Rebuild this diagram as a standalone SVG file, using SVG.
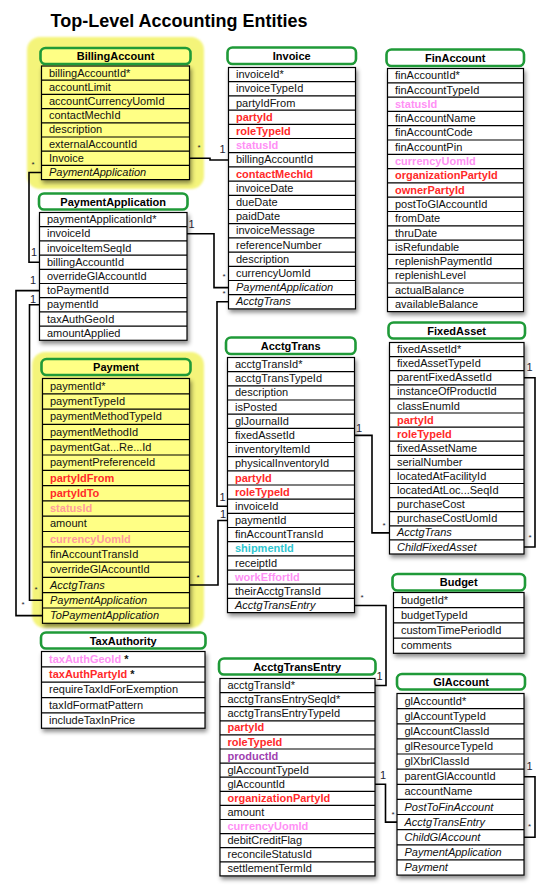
<svg xmlns="http://www.w3.org/2000/svg" width="553" height="896" viewBox="0 0 553 896">
<defs>
<filter id="sh" x="-10%" y="-10%" width="125%" height="125%">
<feDropShadow dx="1.5" dy="3" stdDeviation="2.2" flood-color="#000" flood-opacity="0.45"/>
</filter>
<filter id="soft" x="-5%" y="-5%" width="110%" height="110%">
<feGaussianBlur stdDeviation="1.2"/>
</filter>
</defs>
<style>
text{font-family:"Liberation Sans",Arial,sans-serif;font-size:11px;fill:#111}
.h{font-size:18px;font-weight:bold;fill:#000}
.b{font-weight:bold;text-anchor:middle;fill:#000}
.i{font-style:italic}
.r{font-weight:bold;fill:#ff2a2a}
.p{font-weight:bold;fill:#ff90f5}
.s{font-weight:bold;fill:#ff9c9c}
.c{font-weight:bold;fill:#30c6d0}
.v{font-weight:bold;fill:#a040b0}
.st{font-weight:bold}
.tb{fill:#fff;stroke:#000;stroke-width:1.2;filter:url(#sh)}
.ty{fill:#ffff85;stroke:#000;stroke-width:1.2;filter:url(#sh)}
.hd{fill:#fff;stroke:#1f9a38;stroke-width:2.6}
.hy{fill:#ffff85;stroke:#1f9a38;stroke-width:2.6}
.ln{fill:none;stroke:#000;stroke-width:1.2}
.bg{fill:#f4f47a;filter:url(#soft)}
.cn{fill:none;stroke:#000;stroke-width:1.6}
.one{font-size:11px;fill:#223;text-anchor:middle}
.mny{font-size:8px;fill:#223;text-anchor:middle}
</style>
<rect width="553" height="896" fill="#fff"/>
<text class="h" x="50.5" y="27">Top-Level Accounting Entities</text>

<g id="BillingAccount">
<rect class="bg" x="27" y="37" width="177" height="152" rx="13"/>
<rect class="ty" x="41.5" y="66" width="148" height="113.6"/>
<path class="ln" d="M41.5 80.2h148M41.5 94.4h148M41.5 108.6h148M41.5 122.8h148M41.5 137h148M41.5 151.2h148M41.5 165.4h148"/>
<rect class="hy" x="40.5" y="48" width="150" height="16" rx="5"/>
<text class="b" x="115.5" y="60">BillingAccount</text>
<text x="49" y="76.6">billingAccountId*</text>
<text x="49" y="90.8">accountLimit</text>
<text x="49" y="105">accountCurrencyUomId</text>
<text x="49" y="119.2">contactMechId</text>
<text x="49" y="133.4">description</text>
<text x="49" y="147.6">externalAccountId</text>
<text x="49" y="161.8">Invoice</text>
<text class="i" x="49" y="176">PaymentApplication</text>
</g>

<g id="Invoice">
<rect class="tb" x="228.5" y="67.5" width="127" height="241.4"/>
<path class="ln" d="M228.5 81.7h127M228.5 95.9h127M228.5 110.1h127M228.5 124.3h127M228.5 138.5h127M228.5 152.7h127M228.5 166.9h127M228.5 181.1h127M228.5 195.3h127M228.5 209.5h127M228.5 223.7h127M228.5 237.9h127M228.5 252.1h127M228.5 266.3h127M228.5 280.5h127M228.5 294.7h127"/>
<rect class="hd" x="227.5" y="47.5" width="128.5" height="16.5" rx="5"/>
<text class="b" x="291.7" y="59.8">Invoice</text>
<text x="236" y="78.1">invoiceId*</text>
<text x="236" y="92.3">invoiceTypeId</text>
<text x="236" y="106.5">partyIdFrom</text>
<text class="r" x="236" y="120.7">partyId</text>
<text class="r" x="236" y="134.9">roleTypeId</text>
<text class="p" x="236" y="149.1">statusId</text>
<text x="236" y="163.3">billingAccountId</text>
<text class="r" x="236" y="177.5">contactMechId</text>
<text x="236" y="191.7">invoiceDate</text>
<text x="236" y="205.9">dueDate</text>
<text x="236" y="220.1">paidDate</text>
<text x="236" y="234.3">invoiceMessage</text>
<text x="236" y="248.5">referenceNumber</text>
<text x="236" y="262.7">description</text>
<text x="236" y="276.9">currencyUomId</text>
<text class="i" x="236" y="291.1">PaymentApplication</text>
<text class="i" x="236" y="305.3">AcctgTrans</text>
</g>

<g id="FinAccount">
<rect class="tb" x="387.5" y="68.5" width="136" height="243.1"/>
<path class="ln" d="M387.5 82.8h136M387.5 97.1h136M387.5 111.4h136M387.5 125.7h136M387.5 140h136M387.5 154.3h136M387.5 168.6h136M387.5 182.9h136M387.5 197.2h136M387.5 211.5h136M387.5 225.8h136M387.5 240.1h136M387.5 254.4h136M387.5 268.7h136M387.5 283h136M387.5 297.3h136"/>
<rect class="hd" x="386.5" y="49.5" width="137.5" height="16.5" rx="5"/>
<text class="b" x="455.2" y="61.8">FinAccount</text>
<text x="395" y="79.2">finAccountId*</text>
<text x="395" y="93.5">finAccountTypeId</text>
<text class="p" x="395" y="107.8">statusId</text>
<text x="395" y="122.1">finAccountName</text>
<text x="395" y="136.4">finAccountCode</text>
<text x="395" y="150.7">finAccountPin</text>
<text class="p" x="395" y="165">currencyUomId</text>
<text class="r" x="395" y="179.3">organizationPartyId</text>
<text class="r" x="395" y="193.6">ownerPartyId</text>
<text x="395" y="207.9">postToGlAccountId</text>
<text x="395" y="222.2">fromDate</text>
<text x="395" y="236.5">thruDate</text>
<text x="395" y="250.8">isRefundable</text>
<text x="395" y="265.1">replenishPaymentId</text>
<text x="395" y="279.4">replenishLevel</text>
<text x="395" y="293.7">actualBalance</text>
<text x="395" y="308">availableBalance</text>
</g>

<g id="PaymentApplication">
<rect class="tb" x="39.5" y="212.5" width="147.5" height="127.8"/>
<path class="ln" d="M39.5 226.7h147.5M39.5 240.9h147.5M39.5 255.1h147.5M39.5 269.3h147.5M39.5 283.5h147.5M39.5 297.7h147.5M39.5 311.9h147.5M39.5 326.1h147.5"/>
<rect class="hd" x="39" y="193.5" width="148.5" height="16" rx="5"/>
<text class="b" x="113.2" y="205.5">PaymentApplication</text>
<text x="47" y="223.1">paymentApplicationId*</text>
<text x="47" y="237.3">invoiceId</text>
<text x="47" y="251.5">invoiceItemSeqId</text>
<text x="47" y="265.7">billingAccountId</text>
<text x="47" y="279.9">overrideGlAccountId</text>
<text x="47" y="294.1">toPaymentId</text>
<text x="47" y="308.3">paymentId</text>
<text x="47" y="322.5">taxAuthGeoId</text>
<text x="47" y="336.7">amountApplied</text>
</g>

<g id="Payment">
<rect class="bg" x="32" y="352" width="172" height="276" rx="13"/>
<rect class="ty" x="42.5" y="378.5" width="147" height="244.8"/>
<path class="ln" d="M42.5 393.8h147M42.5 409.1h147M42.5 424.4h147M42.5 439.7h147M42.5 455h147M42.5 470.3h147M42.5 485.6h147M42.5 500.9h147M42.5 516.2h147M42.5 531.5h147M42.5 546.8h147M42.5 562.1h147M42.5 577.4h147M42.5 592.7h147M42.5 608h147"/>
<rect class="hy" x="41.5" y="359" width="149" height="16" rx="5"/>
<text class="b" x="116" y="371">Payment</text>
<text x="50" y="389.7">paymentId*</text>
<text x="50" y="405">paymentTypeId</text>
<text x="50" y="420.3">paymentMethodTypeId</text>
<text x="50" y="435.6">paymentMethodId</text>
<text x="50" y="450.9">paymentGat...Re...Id</text>
<text x="50" y="466.2">paymentPreferenceId</text>
<text class="r" x="50" y="481.5">partyIdFrom</text>
<text class="r" x="50" y="496.8">partyIdTo</text>
<text class="s" x="50" y="512.1">statusId</text>
<text x="50" y="527.4">amount</text>
<text class="s" x="50" y="542.7">currencyUomId</text>
<text x="50" y="558">finAccountTransId</text>
<text x="50" y="573.3">overrideGlAccountId</text>
<text class="i" x="50" y="588.6">AcctgTrans</text>
<text class="i" x="50" y="603.9">PaymentApplication</text>
<text class="i" x="50" y="619.2">ToPaymentApplication</text>
</g>

<g id="AcctgTrans">
<rect class="tb" x="227.5" y="357.5" width="127" height="255.1"/>
<path class="ln" d="M227.5 371.7h127M227.5 385.8h127M227.5 400h127M227.5 414.2h127M227.5 428.4h127M227.5 442.5h127M227.5 456.7h127M227.5 470.9h127M227.5 485h127M227.5 499.2h127M227.5 513.4h127M227.5 527.5h127M227.5 541.7h127M227.5 555.9h127M227.5 570.1h127M227.5 584.2h127M227.5 598.4h127"/>
<rect class="hd" x="226" y="337.5" width="129.5" height="16.5" rx="5"/>
<text class="b" x="290.7" y="349.8">AcctgTrans</text>
<text x="235" y="368.1">acctgTransId*</text>
<text x="235" y="382.3">acctgTransTypeId</text>
<text x="235" y="396.4">description</text>
<text x="235" y="410.6">isPosted</text>
<text x="235" y="424.8">glJournalId</text>
<text x="235" y="439">fixedAssetId</text>
<text x="235" y="453.1">inventoryItemId</text>
<text x="235" y="467.3">physicalInventoryId</text>
<text class="r" x="235" y="481.5">partyId</text>
<text class="r" x="235" y="495.6">roleTypeId</text>
<text x="235" y="509.8">invoiceId</text>
<text x="235" y="524">paymentId</text>
<text x="235" y="538.1">finAccountTransId</text>
<text class="c" x="235" y="552.3">shipmentId</text>
<text x="235" y="566.5">receiptId</text>
<text class="p" x="235" y="580.7">workEffortId</text>
<text x="235" y="594.8">theirAcctgTransId</text>
<text class="i" x="235" y="609">AcctgTransEntry</text>
</g>

<g id="FixedAsset">
<rect class="tb" x="389.5" y="342.5" width="134.5" height="211.5"/>
<path class="ln" d="M389.5 356.6h134.5M389.5 370.7h134.5M389.5 384.8h134.5M389.5 398.9h134.5M389.5 413h134.5M389.5 427.1h134.5M389.5 441.2h134.5M389.5 455.3h134.5M389.5 469.4h134.5M389.5 483.5h134.5M389.5 497.6h134.5M389.5 511.7h134.5M389.5 525.8h134.5M389.5 539.9h134.5"/>
<rect class="hd" x="388.5" y="322.5" width="136.5" height="16" rx="5"/>
<text class="b" x="456.7" y="334.5">FixedAsset</text>
<text x="397" y="353.1">fixedAssetId*</text>
<text x="397" y="367.2">fixedAssetTypeId</text>
<text x="397" y="381.3">parentFixedAssetId</text>
<text x="397" y="395.4">instanceOfProductId</text>
<text x="397" y="409.5">classEnumId</text>
<text class="r" x="397" y="423.6">partyId</text>
<text class="r" x="397" y="437.7">roleTypeId</text>
<text x="397" y="451.8">fixedAssetName</text>
<text x="397" y="465.9">serialNumber</text>
<text x="397" y="480">locatedAtFacilityId</text>
<text x="397" y="494.1">locatedAtLoc...SeqId</text>
<text x="397" y="508.2">purchaseCost</text>
<text x="397" y="522.3">purchaseCostUomId</text>
<text class="i" x="397" y="536.4">AcctgTrans</text>
<text class="i" x="397" y="550.5">ChildFixedAsset</text>
</g>

<g id="Budget">
<rect class="tb" x="393.5" y="592.5" width="130.5" height="60.8"/>
<path class="ln" d="M393.5 607.7h130.5M393.5 622.9h130.5M393.5 638.1h130.5"/>
<rect class="hd" x="392.5" y="574" width="132.5" height="16.5" rx="5"/>
<text class="b" x="458.7" y="586.3">Budget</text>
<text x="401" y="603.5">budgetId*</text>
<text x="401" y="618.7">budgetTypeId</text>
<text x="401" y="633.9">customTimePeriodId</text>
<text x="401" y="649.1">comments</text>
</g>

<g id="TaxAuthority">
<rect class="tb" x="41.5" y="651.5" width="163.5" height="76.75"/>
<path class="ln" d="M41.5 666.85h163.5M41.5 682.2h163.5M41.5 697.55h163.5M41.5 712.9h163.5"/>
<rect class="hd" x="41" y="632.5" width="164.5" height="16" rx="5"/>
<text class="b" x="123.2" y="644.5">TaxAuthority</text>
<text x="49" y="662.7"><tspan class="p">taxAuthGeoId</tspan><tspan class="st"> *</tspan></text>
<text x="49" y="678"><tspan class="r">taxAuthPartyId</tspan><tspan class="st"> *</tspan></text>
<text x="49" y="693.4">requireTaxIdForExemption</text>
<text x="49" y="708.7">taxIdFormatPattern</text>
<text x="49" y="724.1">includeTaxInPrice</text>
</g>

<g id="AcctgTransEntry">
<rect class="tb" x="220" y="678.5" width="155" height="197.4"/>
<path class="ln" d="M220 692.6h155M220 706.7h155M220 720.8h155M220 734.9h155M220 749h155M220 763.1h155M220 777.2h155M220 791.3h155M220 805.4h155M220 819.5h155M220 833.6h155M220 847.7h155M220 861.8h155"/>
<rect class="hd" x="219" y="658.5" width="156.5" height="16" rx="5"/>
<text class="b" x="297.2" y="670.5">AcctgTransEntry</text>
<text x="227.5" y="689.1">acctgTransId*</text>
<text x="227.5" y="703.2">acctgTransEntrySeqId*</text>
<text x="227.5" y="717.3">acctgTransEntryTypeId</text>
<text class="r" x="227.5" y="731.4">partyId</text>
<text class="r" x="227.5" y="745.5">roleTypeId</text>
<text class="v" x="227.5" y="759.6">productId</text>
<text x="227.5" y="773.7">glAccountTypeId</text>
<text x="227.5" y="787.8">glAccountId</text>
<text class="r" x="227.5" y="801.9">organizationPartyId</text>
<text x="227.5" y="816">amount</text>
<text class="p" x="227.5" y="830.1">currencyUomId</text>
<text x="227.5" y="844.2">debitCreditFlag</text>
<text x="227.5" y="858.3">reconcileStatusId</text>
<text x="227.5" y="872.4">settlementTermId</text>
</g>

<g id="GlAccount">
<rect class="tb" x="397" y="693.5" width="127" height="181.6"/>
<path class="ln" d="M397 708.6h127M397 723.8h127M397 738.9h127M397 754h127M397 769.2h127M397 784.3h127M397 799.4h127M397 814.5h127M397 829.7h127M397 844.8h127M397 859.9h127"/>
<rect class="hd" x="397" y="674" width="128" height="15.5" rx="5"/>
<text class="b" x="461" y="685.8">GlAccount</text>
<text x="404.5" y="704.6">glAccountId*</text>
<text x="404.5" y="719.7">glAccountTypeId</text>
<text x="404.5" y="734.9">glAccountClassId</text>
<text x="404.5" y="750">glResourceTypeId</text>
<text x="404.5" y="765.1">glXbrlClassId</text>
<text x="404.5" y="780.3">parentGlAccountId</text>
<text x="404.5" y="795.4">accountName</text>
<text class="i" x="404.5" y="810.5">PostToFinAccount</text>
<text class="i" x="404.5" y="825.7">AcctgTransEntry</text>
<text class="i" x="404.5" y="840.8">ChildGlAccount</text>
<text class="i" x="404.5" y="855.9">PaymentApplication</text>
<text class="i" x="404.5" y="871.1">Payment</text>
</g>

<g id="connectors">
<path class="cn" d="M189.5 158.3H210V160H228.5"/>
<path class="cn" d="M41.5 172.5H29V262.2H39.5"/>
<path class="cn" d="M187 233.8H214V287.6H228.5"/>
<path class="cn" d="M39.5 290.6H16V615.6H42.5"/>
<path class="cn" d="M39.5 304.8H29.5V600.3H42.5"/>
<path class="cn" d="M228.5 301.8H217V506.3H227.5"/>
<path class="cn" d="M189.5 585H218V520.5H227.5"/>
<path class="cn" d="M354.5 435.4H372V532.9H389.5"/>
<path class="cn" d="M524 377.8H535V547H524"/>
<path class="cn" d="M354.5 605.5H386V685.5H375"/>
<path class="cn" d="M375 784.3H385.5V822.1H397"/>
<path class="cn" d="M524 776.7H535V837.3H524"/>
<text class="mny" x="199" y="150">*</text>
<text class="one" x="222.5" y="152.5">1</text>
<text class="mny" x="33" y="167">*</text>
<text class="one" x="34" y="256">1</text>
<text class="one" x="191.5" y="228">1</text>
<text class="mny" x="224" y="279">*</text>
<text class="one" x="33" y="284">1</text>
<text class="mny" x="23" y="607">*</text>
<text class="one" x="33" y="302.5">1</text>
<text class="mny" x="36" y="592">*</text>
<text class="mny" x="224" y="296">*</text>
<text class="one" x="222.5" y="501">1</text>
<text class="mny" x="198" y="580">*</text>
<text class="one" x="223" y="518">1</text>
<text class="one" x="359" y="432">1</text>
<text class="mny" x="384" y="528">*</text>
<text class="one" x="529.5" y="371">1</text>
<text class="mny" x="530" y="540">*</text>
<text class="mny" x="362" y="600">*</text>
<text class="one" x="379.5" y="680">1</text>
<text class="one" x="383" y="779">1</text>
<text class="mny" x="393" y="817">*</text>
<text class="one" x="529.5" y="770">1</text>
<text class="mny" x="529.5" y="829">*</text>
</g>
</svg>
